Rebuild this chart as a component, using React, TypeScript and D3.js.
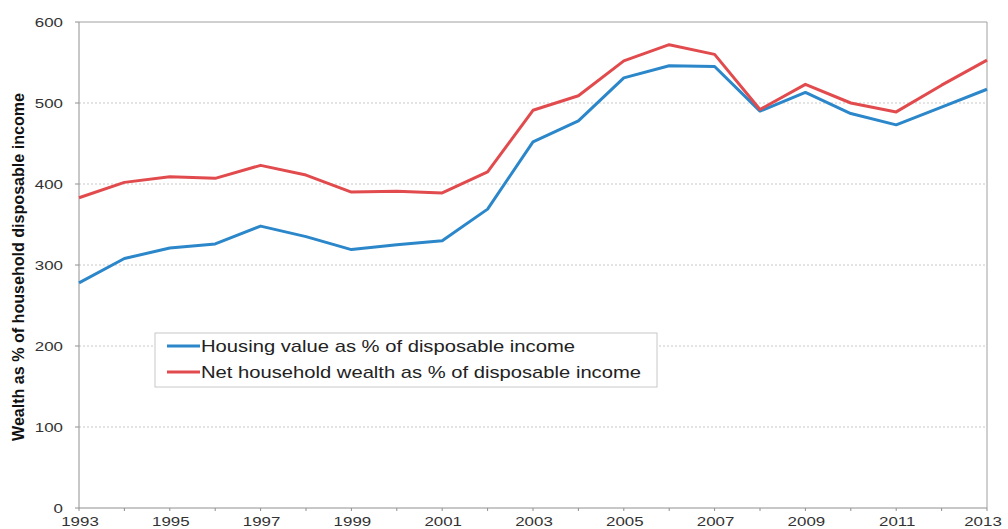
import React from "react";
import * as d3 from "d3";

const years = [1993,1994,1995,1996,1997,1998,1999,2000,2001,2002,2003,2004,2005,2006,2007,2008,2009,2010,2011,2012,2013];
const housing = [278,308,321,326,348,335,319,325,330,369,452,478,531,546,545,490,513,487,473,495,517];
const netWealth = [383,402,409,407,423,411,390,391,389,415,491,509,552,572,560,492,523,500,489,522,553];
const yTicks = [0,100,200,300,400,500,600];
const xTickLabels = [1993,1995,1997,1999,2001,2003,2005,2007,2009,2011,2013];
const seriesNames = ["Housing value as % of disposable income", "Net household wealth as % of disposable income"];
const seriesColors = ["#2b87c9", "#e24b4d"];
const yTitle = "Wealth as % of household disposable income";

export default function App() {
  const W = 1008, H = 529;
  const left = 79, right = 987, top = 22, bottom = 508;
  const x = d3.scaleLinear().domain([1993, 2013]).range([left, right]);
  const y = d3.scaleLinear().domain([0, 600]).range([bottom, top]);
  const line = d3.line<[number, number]>().x(d => x(d[0])).y(d => y(d[1]));
  const data = [housing, netWealth].map(vals => years.map((yr, i) => [yr, vals[i]] as [number, number]));
  const font = "Liberation Sans, Arial, sans-serif";
  const legendWidths = [374, 440];
  return (
    <svg width={W} height={H} style={{ position: "absolute", left: 0, top: 0, background: "#fff" }}>
      {yTicks.filter(t => t > 0 && t < 600).map(t => (
        <line key={t} x1={left} x2={right} y1={y(t)} y2={y(t)} stroke="#c8c8c8" strokeWidth={1} strokeDasharray="2,2" />
      ))}
      <line x1={left} x2={right} y1={top} y2={top} stroke="#a0a0a0" strokeWidth={1} />
      <line x1={right} x2={right} y1={top} y2={bottom} stroke="#a0a0a0" strokeWidth={1} />
      <line x1={left} x2={left} y1={top} y2={bottom} stroke="#909090" strokeWidth={1} />
      <line x1={left} x2={right} y1={bottom} y2={bottom} stroke="#909090" strokeWidth={1} />
      {yTicks.map(t => (
        <g key={t}>
          <line x1={left - 4} x2={left} y1={y(t)} y2={y(t)} stroke="#909090" />
          <text transform={`translate(${left - 16},${y(t) + 4.5}) scale(1.3,1)`} textAnchor="end" fontFamily={font} fontSize={13} fill="#333">{t}</text>
        </g>
      ))}
      {years.map(yr => (
        <line key={yr} x1={x(yr)} x2={x(yr)} y1={bottom} y2={bottom + 3} stroke="#909090" />
      ))}
      {xTickLabels.map(yr => (
        <text key={yr} transform={`translate(${Math.min(x(yr) + 1, 983)},${bottom + 18}) scale(1.3,1)`} textAnchor="middle" fontFamily={font} fontSize={13} fill="#333">{yr}</text>
      ))}
      <text transform={`translate(24,267) rotate(-90)`} textAnchor="middle" textLength={348} lengthAdjust="spacingAndGlyphs"
        fontFamily="Liberation Sans Narrow, Arial Narrow, sans-serif" fontWeight="bold" fontSize={16} fill="#111">{yTitle}</text>
      {data.map((d, i) => (
        <path key={i} d={line(d) || ""} fill="none" stroke={seriesColors[i]} strokeWidth={3} strokeLinejoin="round" />
      ))}
      <rect x={155} y={333} width={502} height={54} fill="#fff" stroke="#c8c8c8" strokeWidth={1} />
      {seriesNames.map((n, i) => (
        <g key={n}>
          <line x1={167} x2={200} y1={346 + i * 26} y2={346 + i * 26} stroke={seriesColors[i]} strokeWidth={3} />
          <text x={201} y={352 + i * 26} textLength={legendWidths[i]} lengthAdjust="spacingAndGlyphs" fontFamily={font} fontSize={17} fill="#222">{n}</text>
        </g>
      ))}
    </svg>
  );
}
